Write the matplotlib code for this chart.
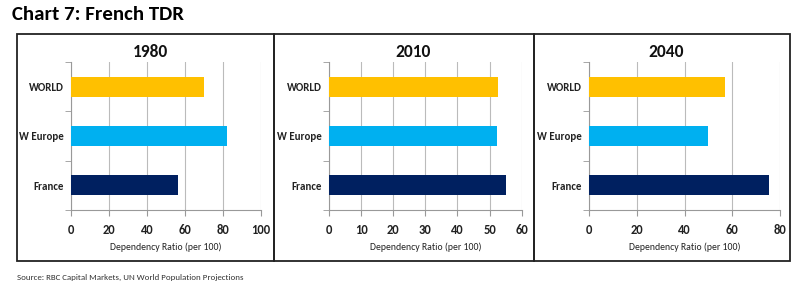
import numpy as np
import matplotlib
matplotlib.use('Agg')
from matplotlib import pyplot as plt
from matplotlib.patches import Rectangle

plt.rcParams['font.family'] = ['Carlito', 'Lato', 'DejaVu Sans']

categories = ['France', 'W Europe', 'WORLD']
colors = ['#002060', '#00B0F0', '#FFC000']
years = ['1980', '2010', '2040']
vals_1980 = [56.5, 82.0, 70.2]
vals_2010 = [55.0, 52.2, 52.5]
vals_2040 = [75.5, 50.0, 57.1]
xmax = [100, 60, 80]
xstep = [20, 10, 20]

fig = plt.figure(figsize=(8, 2.85), dpi=100)
W, H = 800.0, 285.0

fig.text(12 / W, 1 - 14 / H, 'Chart 7: French TDR', fontsize=15, fontweight='bold',
         va='center', ha='left')
fig.text(17 / W, 1 - 277 / H, 'Source: RBC Capital Markets, UN World Population Projections',
         fontsize=6.4, color='#333333', va='center', ha='left')

# panel frames
panels = [(17, 274), (274, 534), (534, 790)]
for x0, x1 in panels:
    fig.patches.append(Rectangle((x0 / W, 1 - 261 / H), (x1 - x0) / W, (261 - 34) / H,
                                 transform=fig.transFigure, fill=False,
                                 edgecolor='#222222', linewidth=1.3))

ax_left = [70.7, 329, 589]
ax_w = [190.3, 192.7, 191]
title_x = [150, 413, 666]
data = [vals_1980, vals_2010, vals_2040]

for i in range(3):
    ax = fig.add_axes([ax_left[i] / W, 1 - 210 / H, ax_w[i] / W, 148 / H])
    y = np.arange(len(categories))
    ax.barh(y, data[i], height=0.41, color=colors, zorder=3)
    ax.set_xlim(0, xmax[i])
    ax.set_ylim(-0.5, 2.5)
    ax.set_xticks(np.arange(0, xmax[i] + 1, xstep[i]))
    ax.set_yticks(y)
    ax.set_yticklabels(categories)
    ax.set_yticks([-0.5, 0.5, 1.5, 2.5], minor=True)
    ax.tick_params(axis='y', which='major', length=0, pad=5, labelsize=7.8)
    ax.tick_params(axis='y', which='minor', length=4, color='#999999', direction='out')
    ax.tick_params(axis='x', length=4, color='#999999', labelsize=9, pad=6)
    for lab in ax.get_xticklabels() + ax.get_yticklabels():
        lab.set_fontweight('bold')
        lab.set_color('#222222')
    ax.grid(axis='x', color='#BBBBBB', linewidth=0.8, zorder=0)
    for s in ['top', 'right']:
        ax.spines[s].set_visible(False)
    for s in ['left', 'bottom']:
        ax.spines[s].set_color('#999999')
    ax.set_xlabel('Dependency Ratio (per 100)', fontsize=7, color='#222222', labelpad=5)
    fig.text(title_x[i] / W, 1 - 52 / H, years[i], fontsize=12.5, fontweight='bold',
             ha='center', va='center', color='#111111')

plt.savefig('out.png', dpi=100)
